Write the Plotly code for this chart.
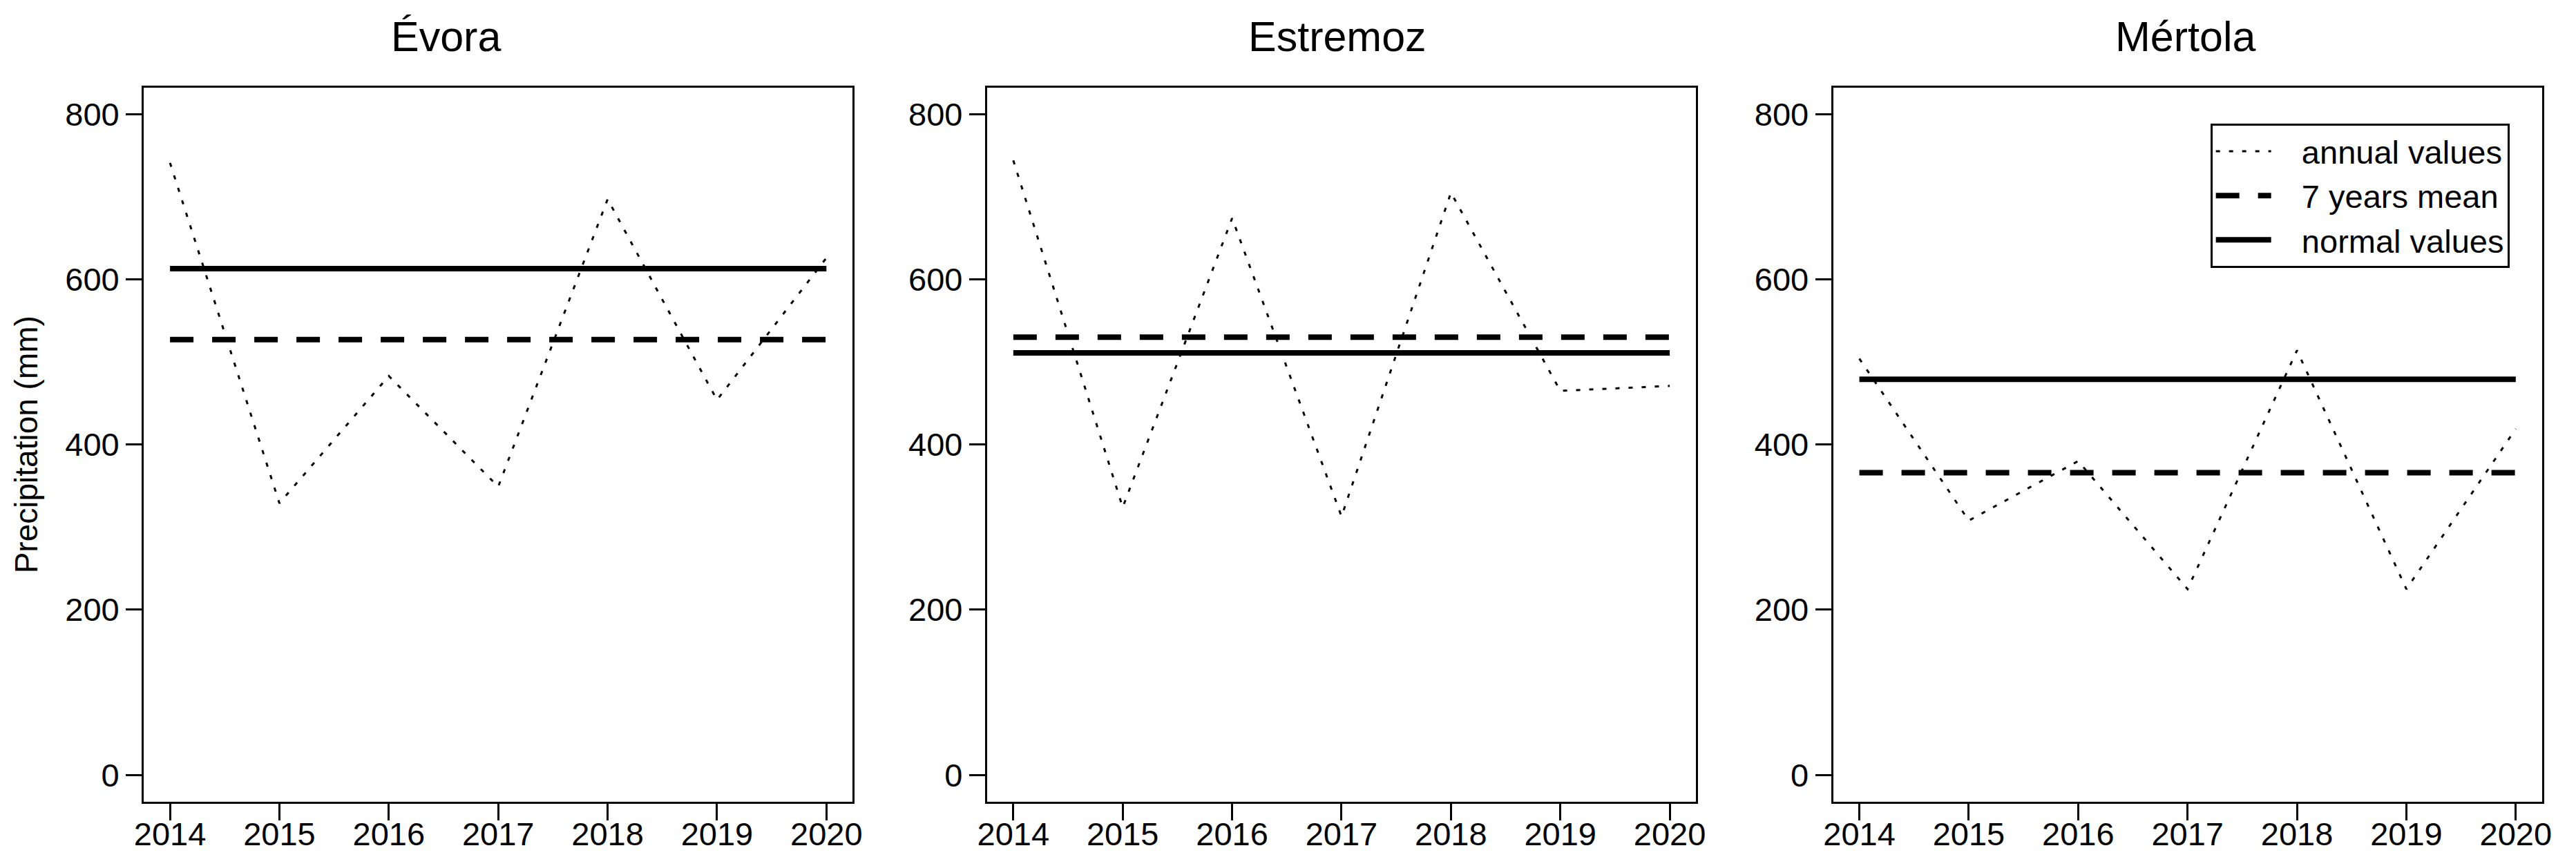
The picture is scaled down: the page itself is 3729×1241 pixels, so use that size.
import plotly.graph_objects as go

# ---- data ----
years = [2014, 2015, 2016, 2017, 2018, 2019, 2020]
stations = ["Évora", "Estremoz", "Mértola"]
annual_evora = [741, 329, 483, 349, 697, 454, 626]
annual_estremoz = [744, 324, 674, 313, 705, 465, 471]
annual_mertola = [504, 308, 380, 225, 514, 225, 419]
mean_7_years = [527, 530, 366]
normal_values = [613, 511, 479]
y_ticks = [0, 200, 400, 600, 800]
legend_labels = ["annual values", "7 years mean", "normal values"]

annual = [annual_evora, annual_estremoz, annual_mertola]

# ---- layout geometry (pixels of the 3729x1241 page) ----
W, H = 3729, 1241
panels_px = [(187.5, 1221.5), (1417.5, 2451.5), (2651.5, 3685.5)]
top_px, bottom_px = 119, 1152.5
title_x_px = [628, 1928, 3165]
title_y_px = 45

FONT = "Liberation Sans, Arial, sans-serif"
NB = "\u00a0\u00a0\u00a0"
fig = go.Figure()

for i, name in enumerate(stations):
    xa = "x" if i == 0 else f"x{i+1}"
    ya = "y" if i == 0 else f"y{i+1}"
    show = (i == 2)
    fig.add_trace(go.Scatter(
        x=years, y=annual[i], mode="lines", name=NB + legend_labels[0],
        line=dict(color="black", width=3, dash="6px,13px"),
        xaxis=xa, yaxis=ya, showlegend=show, legendgroup="a"))
    fig.add_trace(go.Scatter(
        x=[years[0], years[-1]], y=[mean_7_years[i]] * 2, mode="lines",
        name=NB + legend_labels[1],
        line=dict(color="black", width=8, dash="34px,27px"),
        xaxis=xa, yaxis=ya, showlegend=show, legendgroup="b"))
    fig.add_trace(go.Scatter(
        x=[years[0], years[-1]], y=[normal_values[i]] * 2, mode="lines",
        name=NB + legend_labels[2],
        line=dict(color="black", width=8),
        xaxis=xa, yaxis=ya, showlegend=show, legendgroup="c"))

layout = dict(
    width=W, height=H,
    margin=dict(l=0, r=0, t=0, b=0),
    paper_bgcolor="white", plot_bgcolor="white",
    font=dict(family=FONT, size=47, color="black"),
    legend=dict(
        x=3638 / W, y=1 - 171 / H, xanchor="right", yanchor="top",
        bordercolor="black", borderwidth=3, bgcolor="white",
        font=dict(family=FONT, size=47, color="black"),
        itemwidth=80, tracegroupgap=0,
    ),
    annotations=[],
)

for i in range(3):
    sfx = "" if i == 0 else str(i + 1)
    x0, x1 = panels_px[i]
    layout["xaxis" + sfx] = dict(
        domain=[x0 / W, x1 / W], range=[2013.76, 2020.24],
        tickmode="array", tickvals=years, ticktext=[str(y) for y in years],
        ticks="outside", ticklen=24, tickwidth=3, tickcolor="black",
        ticklabelstandoff=-20,
        showline=True, linewidth=3, linecolor="black", mirror=True,
        showgrid=False, zeroline=False,
        tickfont=dict(family=FONT, size=47, color="black"),
        anchor="y" + sfx,
    )
    layout["yaxis" + sfx] = dict(
        domain=[1 - bottom_px / H, 1 - top_px / H], range=[-32, 832],
        tickmode="array", tickvals=y_ticks, ticktext=[str(v) for v in y_ticks],
        ticks="outside", ticklen=23, tickwidth=3, tickcolor="black",
        showline=True, linewidth=3, linecolor="black", mirror=True,
        showgrid=False, zeroline=False,
        tickfont=dict(family=FONT, size=47, color="black"),
        anchor="x" + sfx,
    )
    layout["annotations"].append(dict(
        text=stations[i], x=title_x_px[i] / W, y=1 - title_y_px / H,
        xref="paper", yref="paper", xanchor="center", yanchor="middle",
        showarrow=False, font=dict(family=FONT, size=61, color="black")))

layout["yaxis"]["title"] = dict(text="Precipitation (mm)",
                                font=dict(family=FONT, size=46, color="black"),
                                standoff=26)

fig.update_layout(**layout)
fig.write_html("out.html")
